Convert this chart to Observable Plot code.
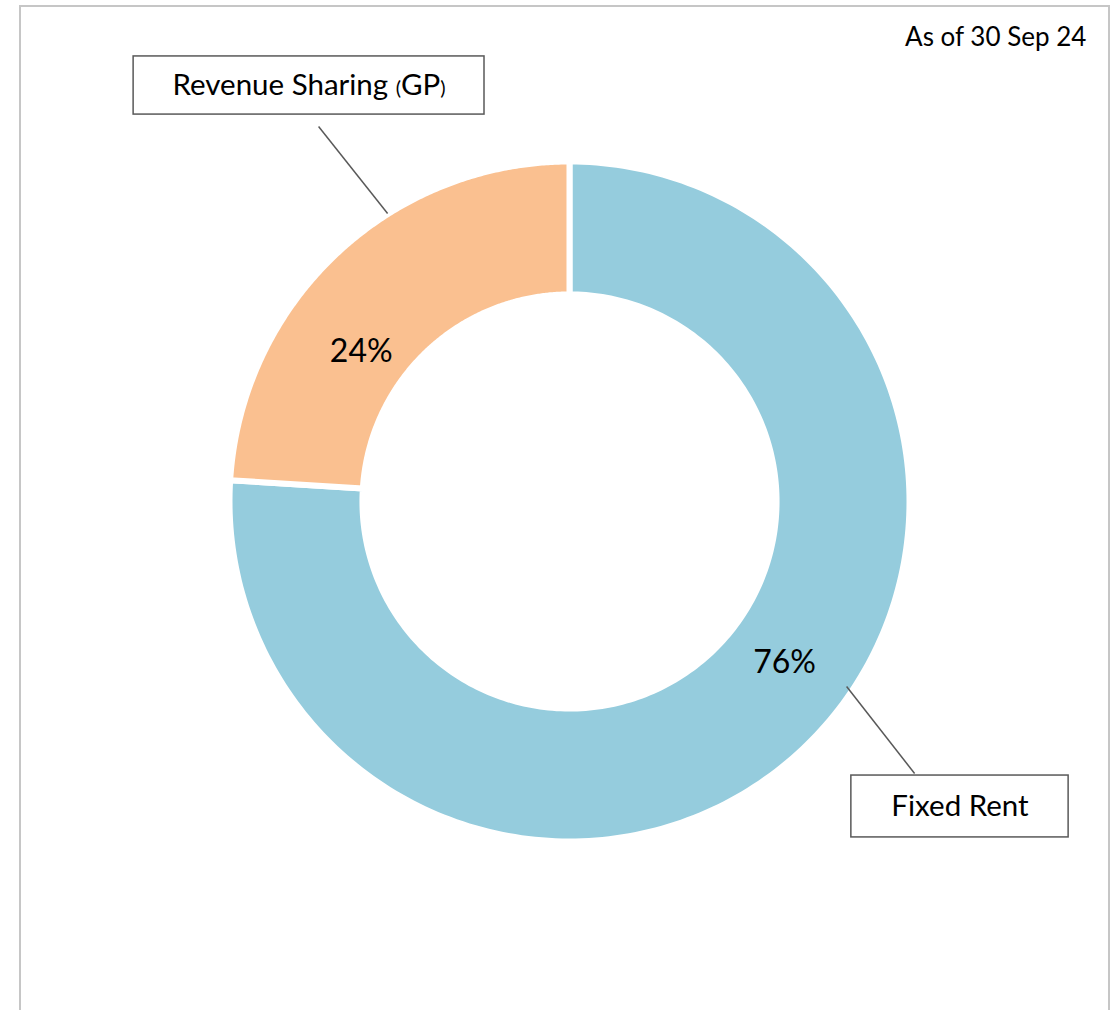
<!DOCTYPE html>
<html>
<head>
<meta charset="utf-8">
<script src="https://cdn.jsdelivr.net/npm/d3@7"></script>
<script src="https://cdn.jsdelivr.net/npm/@observablehq/plot@0.6"></script>
<style>
  html, body { margin: 0; padding: 0; background: #fff; }
  #wrap { position: relative; width: 1117px; height: 1010px; overflow: hidden; }
  #frame { position: absolute; left: 19px; top: 5px; width: 1091px; height: 1100px; border: 2px solid #c6c6c6; box-sizing: border-box; }
  #chart { position: absolute; left: 0; top: 0; }
</style>
</head>
<body>
<div id="wrap"><div id="frame"></div><div id="chart"></div></div>
<script>
// ---- data ----
const categories = ["Fixed Rent", "Revenue Sharing (GP)"];
const shares = [76, 24];
const colors = ["#95CCDD", "#FAC090"];
const pctLabels = ["76%", "24%"];
const dateNote = "As of 30 Sep 24";

// ---- layout (unit radius space, centre at 0,0) ----
const R_OUT = 1, R_IN = 0.609;
const labelBoxes = [
  {cat: "Fixed Rent", x1: 0.829, x2: 1.468, y1: -0.806, y2: -0.988, lx1: 0.815, ly1: -0.544, lx2: 1.015, ly2: -0.80},
  {cat: "Revenue Sharing (GP)", x1: -1.282, x2: -0.25, y1: 1.309, y2: 1.138, lx1: -0.535, ly1: 0.847, lx2: -0.738, ly2: 1.103}
];

// build ring polygons from the shares
const total = d3.sum(shares);
let acc = 0;
const pts = [];
const mids = [];
categories.forEach((c, i) => {
  const a0 = acc / total * 2 * Math.PI;
  acc += shares[i];
  const a1 = acc / total * 2 * Math.PI;
  mids.push({cat: c, a: (a0 + a1) / 2, label: pctLabels[i], r: i === 0 ? 0.785 : 0.76});
  const n = 240;
  for (let k = 0; k <= n; k++) {
    const a = a0 + (a1 - a0) * k / n;
    pts.push({cat: c, x: R_OUT * Math.sin(a), y: R_OUT * Math.cos(a)});
  }
  for (let k = n; k >= 0; k--) {
    const a = a0 + (a1 - a0) * k / n;
    pts.push({cat: c, x: R_IN * Math.sin(a), y: R_IN * Math.cos(a)});
  }
});
const off = -10.5 * Math.PI / 180;
const pctPos = mids.map(m => ({label: m.label, x: m.r * Math.sin(m.a + off), y: m.r * Math.cos(m.a + off)}));

const font = "Lato, 'Open Sans', sans-serif";

const plot = Plot.plot({
  width: 1117,
  height: 1010,
  margin: 0,
  x: {domain: [-1, 1], range: [229, 909], axis: null},
  y: {domain: [-1, 1], range: [841, 161], axis: null},
  color: {domain: categories, range: colors},
  style: {fontFamily: font, background: "transparent", overflow: "visible"},
  marks: [
    Plot.line(pts, {x: "x", y: "y", z: "cat", fill: "cat", stroke: "white", strokeWidth: 6, curve: "linear-closed"}),
    Plot.text(pctPos, {x: "x", y: "y", text: "label", fontSize: 32, fill: "black", dy: 3}),
    Plot.link(labelBoxes, {x1: "lx1", y1: "ly1", x2: "lx2", y2: "ly2", stroke: "#595959", strokeWidth: 1.5}),
    Plot.rect(labelBoxes, {x1: "x1", x2: "x2", y1: "y1", y2: "y2", fill: "white", stroke: "#595959", strokeWidth: 1.5}),
    Plot.text(labelBoxes, {x: d => (d.x1 + d.x2) / 2, y: d => (d.y1 + d.y2) / 2, text: "cat", fontSize: 29.5, fill: "black", className: "boxlabel"}),
    Plot.text([dateNote], {x: 1.52, y: 1.37, text: d => d, textAnchor: "end", fontSize: 26, fill: "black", dy: 2})
  ]
});
document.getElementById("chart").appendChild(plot);

// smaller parentheses in "(GP)"
plot.querySelectorAll(".boxlabel text").forEach(t => {
  const s = t.textContent;
  if (s.includes("(")) {
    const m = s.match(/^(.*)\((.*)\)$/);
    if (m) {
      t.textContent = "";
      const ns = "http://www.w3.org/2000/svg";
      const parts = [[m[1], null], ["(", 20], [m[2], null], [")", 20]];
      parts.forEach(([txt, fs]) => {
        const ts = document.createElementNS(ns, "tspan");
        ts.textContent = txt;
        if (fs) ts.setAttribute("font-size", fs);
        t.appendChild(ts);
      });
    }
  }
});
</script>
</body>
</html>
